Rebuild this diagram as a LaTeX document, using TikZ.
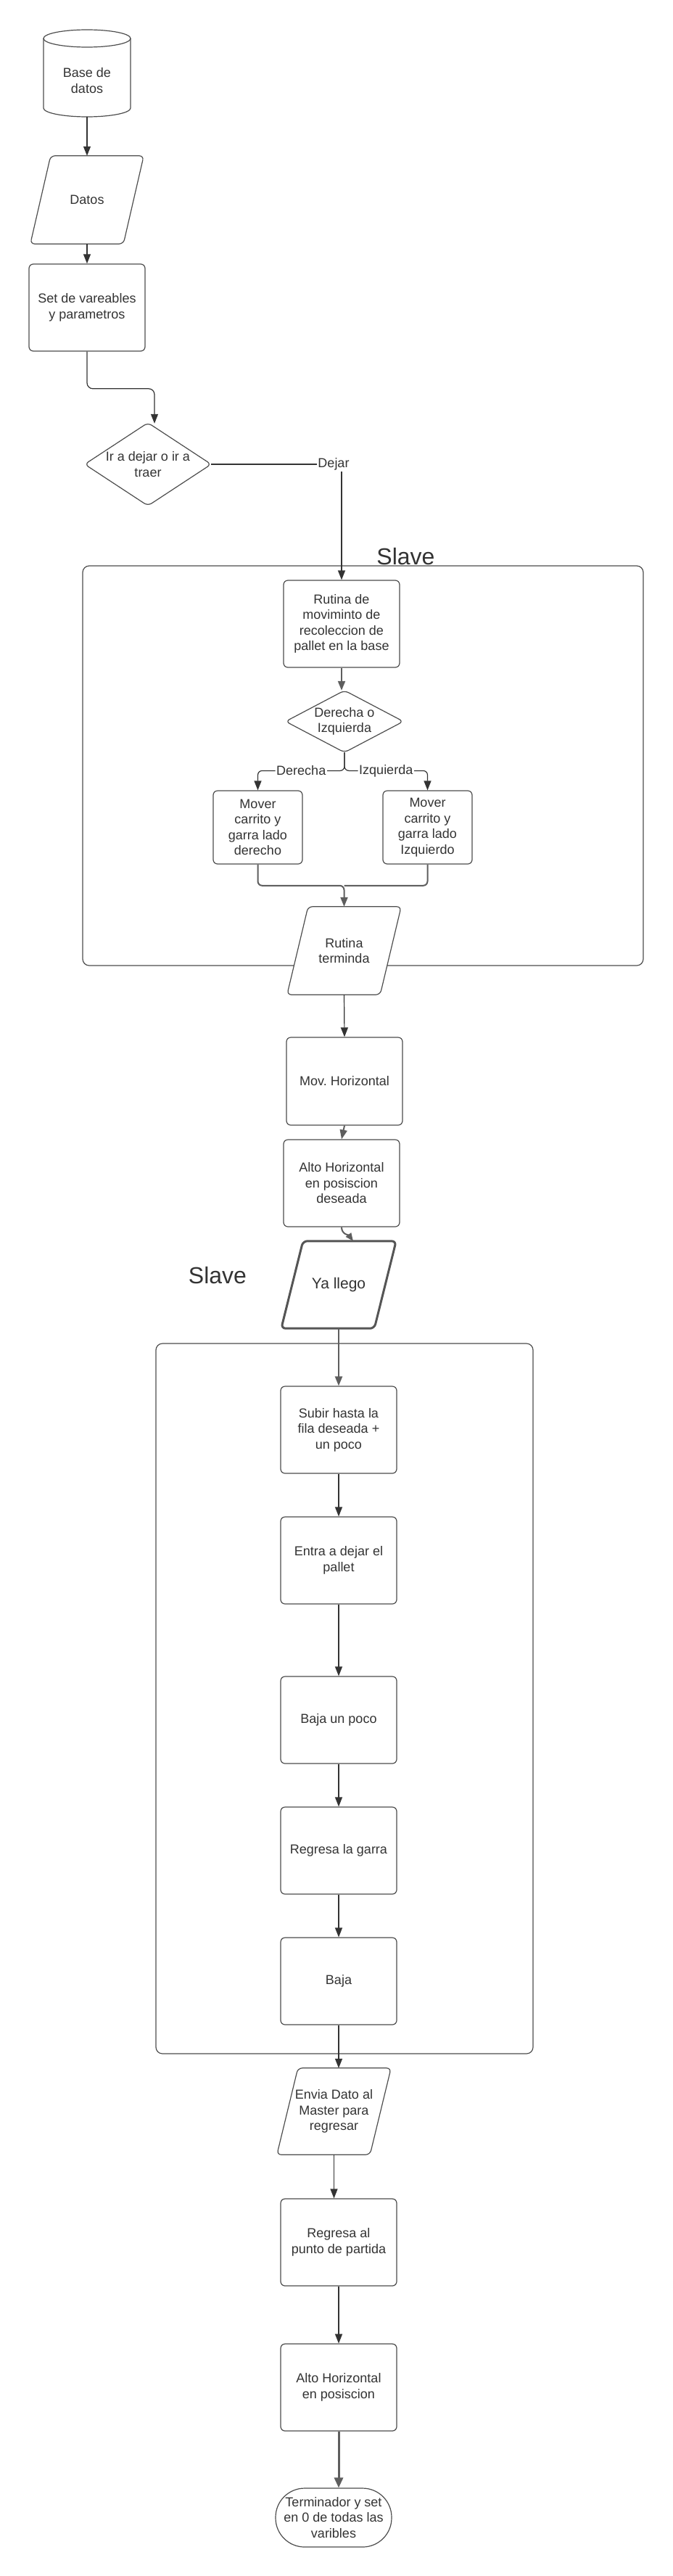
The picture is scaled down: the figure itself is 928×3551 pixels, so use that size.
\documentclass[tikz,border=0pt]{standalone}
\usepackage{fontspec}
\setmainfont{Liberation Sans}
\usetikzlibrary{arrows.meta,calc}
\definecolor{txt}{HTML}{333333}
\definecolor{ln}{HTML}{4D4D4D}
\definecolor{ar}{HTML}{333333}
\definecolor{gar}{HTML}{5E5E5E}
\pgfdeclarelayer{back}
\pgfdeclarelayer{mid}
\pgfsetlayers{back,mid,main}
\frenchspacing
\begin{document}
\begin{tikzpicture}[x=1pt,y=-1pt,
  every node/.style={font=\fontsize{18}{21.5}\selectfont, text=txt, align=center, inner sep=0pt},
  bx/.style={draw=ln, line width=1.2pt, rounded corners=6pt, minimum width=160pt, minimum height=120pt},
  shp/.style={draw=ln, line width=1.2pt, fill=white, rounded corners=6pt},
  arr/.style={draw=ar, line width=1.2pt, -{Triangle[length=13pt,width=10pt]}},
  garr/.style={draw=gar, line width=2pt, -{Triangle[length=13pt,width=10pt]}},
  lbl/.style={fill=white, inner sep=1.5pt},
  slavebox/.style={draw=ln, line width=1.2pt, rounded corners=9pt},
  big/.style={font=\fontsize{32}{36}\selectfont}
]
\useasboundingbox (0,0) rectangle (928,3551);
\begin{pgfonlayer}{back}
\fill[white] (0,0) rectangle (928,3551);
\node[slavebox, minimum width=773pt, minimum height=551pt] (sl1) at (500.5,1055.5) {};
\node[slavebox, minimum width=520pt, minimum height=979pt] (sl2) at (475,2341.5) {};
\end{pgfonlayer}

\node[big, anchor=base] (slt1) at (559.5,778) {Slave};
\node[big, anchor=base] (slt2) at (300,1769) {Slave};

% top part
\node[minimum width=120pt, minimum height=100pt] (cyl) at (120,111) {Base de\\datos};
\node[minimum width=156pt, minimum height=121pt] (datos) at (120,275.5) {Datos};
\node[bx] (set) at (120,424) {Set de vareables\\y parametros};
\node[minimum width=174pt, minimum height=114pt] (dia1) at (204,640) {Ir a dejar o ir a\\traer};

% slave 1
\node[bx] (rutina) at (471,860) {Rutina de\\moviminto de\\recoleccion de\\pallet en la base};
\node[minimum width=162pt, minimum height=85pt] (dia2) at (475,994.5) {Derecha o\\Izquierda};
\node[bx, minimum width=123pt, minimum height=101pt] (moverL) at (355.5,1140.5) {Mover\\carrito y\\garra lado\\derecho};
\node[bx, minimum width=123pt, minimum height=101pt] (moverR) at (589.5,1140.5) {Mover\\carrito y\\garra lado\\Izquierdo};
\node[minimum width=157pt, minimum height=121pt] (rterm) at (474.5,1310.5) {Rutina\\terminda};

\node[bx, minimum height=121pt] (mov) at (475,1490.5) {Mov. Horizontal};
\node[bx] (alto) at (471,1631) {Alto Horizontal\\en posiscion\\deseada};
\node[minimum width=158pt, minimum height=120pt, font=\fontsize{21}{25}\selectfont] (ya) at (467,1771) {Ya llego};
\coordinate (yatop) at ($(ya.north)+(20,0)$);

% slave 2
\node[bx] (subir) at (467,1971) {Subir hasta la\\fila deseada +\\un poco};
\node[bx] (entra) at (467,2151) {Entra a dejar el\\pallet};
\node[bx] (bajap) at (467,2371) {Baja un poco};
\node[bx] (garra) at (467,2551) {Regresa la garra};
\node[bx] (baja) at (467,2731) {Baja};

\node[minimum width=157pt, minimum height=119pt] (envia) at (460.5,2910.5) {Envia Dato al\\Master para\\regresar};
\node[bx] (regresa) at (467,3091) {Regresa al\\punto de partida};
\node[bx] (alto2) at (467,3291) {Alto Horizontal\\en posiscion};
\node[bx, rounded corners=40pt, minimum height=81pt] (term) at (460,3470.5) {Terminador y set\\en 0 de todas las\\varibles};

% shapes drawn under the text
\begin{pgfonlayer}{mid}
\draw[shp, rounded corners=0pt] (60,53) -- (60,149) arc[start angle=180,end angle=360,x radius=60pt,y radius=12pt] -- (180,53);
\draw[shp] (120,53) ellipse[x radius=60pt, y radius=12pt];
\draw[shp] ($(datos.north west)+(28,0)$) -- (datos.north east) -- ($(datos.south east)+(-28,0)$) -- (datos.south west) -- cycle;
\draw[shp] (dia1.north) -- (dia1.east) -- (dia1.south) -- (dia1.west) -- cycle;
\draw[shp] (dia2.north) -- (dia2.east) -- (dia2.south) -- (dia2.west) -- cycle;
\draw[shp] ($(rterm.north west)+(29,0)$) -- (rterm.north east) -- ($(rterm.south east)+(-29,0)$) -- (rterm.south west) -- cycle;
\draw[shp, line width=3pt, draw=gar!90!black] ($(ya.north west)+(30,0)$) -- (ya.north east) -- ($(ya.south east)+(-30,0)$) -- (ya.south west) -- cycle;
\draw[shp] ($(envia.north west)+(29,0)$) -- (envia.north east) -- ($(envia.south east)+(-29,0)$) -- (envia.south west) -- cycle;
\end{pgfonlayer}

% connectors
\draw[arr] (cyl.south) -- (datos.north);
\draw[arr] (datos.south) -- (set.north);
\draw[arr, rounded corners=8pt] (set.south) |- ($(dia1.north)+(9,-47)$) -- ($(dia1.north)+(9,1)$);
\draw[arr] (dia1.east) -| node[lbl, pos=0.5, xshift=-11pt]{Dejar} (rutina.north);
\draw[garr] (rutina.south) -- (rutina.south |- dia2.north);
\draw[arr, rounded corners=6pt] (dia2.south) |- node[lbl, pos=0.75]{Derecha} ($(moverL.north)+(0,-27)$) -- (moverL.north);
\draw[arr, rounded corners=6pt] (dia2.south) |- node[lbl, pos=0.75]{Izquierda} ($(moverR.north)+(0,-27)$) -- (moverR.north);
\draw[garr, rounded corners=6pt] (moverL.south) |- ($(rterm.north)+(0,-29)$) -- (rterm.north);
\draw[draw=gar, line width=2pt, rounded corners=6pt] (moverR.south) |- ($(rterm.north)+(0,-29)$);
\draw[arr] (rterm.south) -- (mov.north);
\draw[garr] (mov.south) -- (alto.north);
\draw[garr, -{Triangle[length=11pt,width=9pt]}] (alto.south) .. controls +(0,10) and +(-6,-8) .. (yatop);
\draw[garr] (ya.south) -- (subir.north);
\draw[arr] (subir.south) -- (entra.north);
\draw[arr] (entra.south) -- (bajap.north);
\draw[arr] (bajap.south) -- (garra.north);
\draw[arr] (garra.south) -- (baja.north);
\draw[arr] (baja.south) -- (baja.south |- envia.north);
\draw[arr] (envia.south) -- (envia.south |- regresa.north);
\draw[arr] (regresa.south) -- (alto2.north);
\draw[garr, line width=3pt, -{Triangle[length=14pt,width=12pt]}] (alto2.south) -- (alto2.south |- term.north);
\end{tikzpicture}
\end{document}
